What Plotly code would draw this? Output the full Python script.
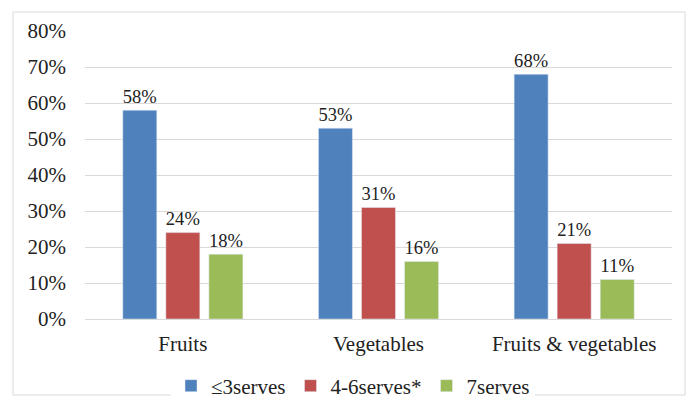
import plotly.graph_objects as go

categories = ["Fruits", "Vegetables", "Fruits & vegetables"]
series_names = ["≤3serves", "4-6serves*", "7serves"]
le3 = [0.58, 0.53, 0.68]
s4_6 = [0.24, 0.31, 0.21]
s7 = [0.18, 0.16, 0.11]
colors = ["#4F81BD", "#C0504D", "#9BBB59"]

FONT = "Times New Roman, Liberation Serif, serif"

fig = go.Figure()
for name, vals, col in zip(series_names, [le3, s4_6, s7], colors):
    fig.add_trace(go.Bar(
        x=categories, y=vals, name=name, marker_color=col,
        text=[f"{round(v*100)}%" for v in vals],
        textposition="outside",
        textfont=dict(family=FONT, size=21, color="#222"),
        cliponaxis=False,
    ))

L, R, T, B = 85, 25, 31, 91
W, H = 697, 410
pw, ph = W - L - R, H - T - B

def px_x(px):
    return (px - L) / pw

def px_y(py):
    return (H - B - py) / ph

fig.update_layout(
    width=W, height=H,
    margin=dict(l=L, r=R, t=T, b=B, autoexpand=False),
    paper_bgcolor="white", plot_bgcolor="white",
    barmode="group", bargap=0.34, bargroupgap=0.21,
    font=dict(family=FONT, size=21, color="#222"),
    showlegend=True,
    legend=dict(orientation="h", x=px_x(353), xanchor="center",
                y=px_y(386), yanchor="middle",
                font=dict(family=FONT, size=21, color="#222"),
                itemwidth=30, traceorder="normal"),
    xaxis=dict(showgrid=False, showline=False, ticks="", ticklabelstandoff=10,
               automargin=False,
               tickfont=dict(family=FONT, size=21, color="#222")),
    yaxis=dict(range=[0, 0.8], dtick=0.1, tickformat=".0%",
               showgrid=True, gridcolor="#D9D9D9", gridwidth=1,
               zeroline=True, zerolinecolor="#D9D9D9", zerolinewidth=1,
               showline=False, ticks="", ticklabelstandoff=18,
               automargin=False,
               tickfont=dict(family=FONT, size=21, color="#222")),
    shapes=[dict(type="rect", xref="paper", yref="paper",
                 x0=px_x(13), x1=px_x(685), y0=px_y(395), y1=px_y(12),
                 line=dict(color="#D9D9D9", width=1), layer="below")],
)

fig.write_html("out.html")
